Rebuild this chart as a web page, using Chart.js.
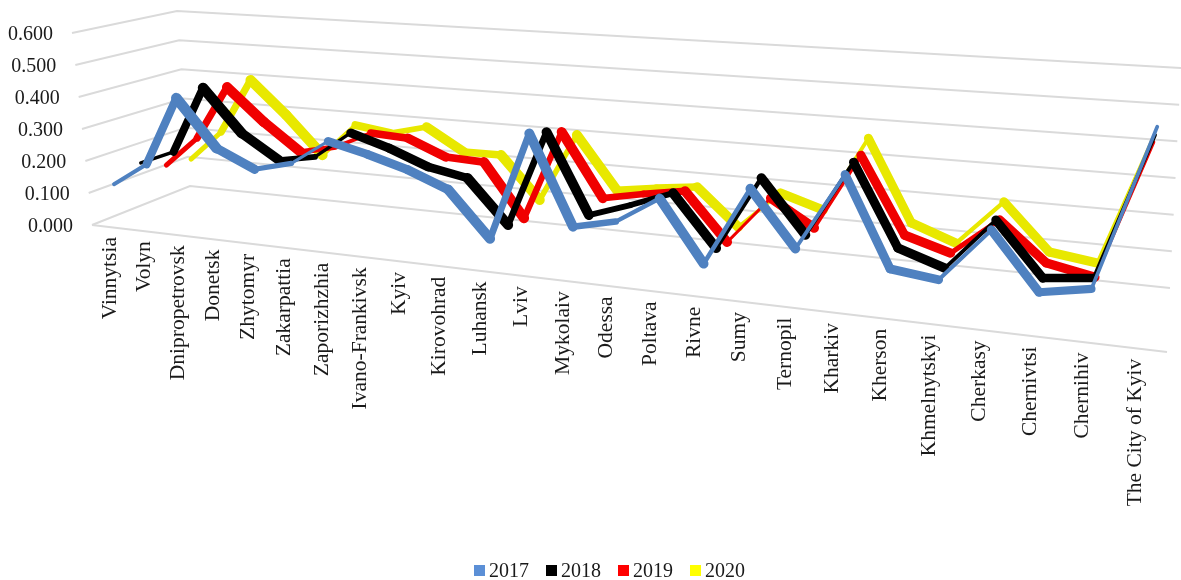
<!DOCTYPE html>
<html>
<head>
<meta charset="utf-8">
<style>
  html, body { margin: 0; padding: 0; background: #fff; }
  canvas { display: block; }
</style>
<script src="https://cdn.jsdelivr.net/npm/chart.js@4"></script>
</head>
<body>
<canvas id="chart" width="1181" height="580"></canvas>
<script>
var categories = ['Vinnytsia', 'Volyn', 'Dnipropetrovsk', 'Donetsk', 'Zhytomyr', 'Zakarpattia', 'Zaporizhzhia',
  'Ivano-Frankivsk', 'Kyiv', 'Kirovohrad', 'Luhansk', 'Lviv', 'Mykolaiv', 'Odessa', 'Poltava', 'Rivne', 'Sumy',
  'Ternopil', 'Kharkiv', 'Kherson', 'Khmelnytskyi', 'Cherkasy', 'Chernivtsi', 'Chernihiv', 'The City of Kyiv'];
var valueTicks = [0, 0.1, 0.2, 0.3, 0.4, 0.5, 0.6];

var years = ['2017', '2018', '2019', '2020'];
var colors = ['#4f81c0', '#000000', '#f00000', '#e8e800'];
var legendColors = ['#5b8fd6', '#000000', '#ff0000', '#ffff00'];

var v2017 = [0.123, 0.197, 0.412, 0.268, 0.215, 0.244, 0.321, 0.293, 0.259, 0.212, 0.082, 0.396, 0.142, 0.169, 0.246, 0.078, 0.297, 0.146, 0.358, 0.119, 0.104, 0.248, 0.100, 0.123, 0.548];
var v2018 = [0.159, 0.205, 0.418, 0.285, 0.211, 0.232, 0.316, 0.280, 0.234, 0.212, 0.084, 0.369, 0.138, 0.179, 0.225, 0.081, 0.291, 0.144, 0.357, 0.134, 0.093, 0.235, 0.094, 0.108, 0.493];
var v2019 = [0.123, 0.222, 0.397, 0.294, 0.208, 0.234, 0.288, 0.282, 0.234, 0.229, 0.070, 0.341, 0.154, 0.178, 0.198, 0.062, 0.201, 0.128, 0.345, 0.133, 0.096, 0.200, 0.096, 0.071, 0.443];
var v2020 = [0.113, 0.214, 0.396, 0.289, 0.168, 0.275, 0.259, 0.288, 0.219, 0.220, 0.091, 0.302, 0.144, 0.162, 0.176, 0.069, 0.181, 0.143, 0.361, 0.130, 0.085, 0.213, 0.086, 0.069, 0.420];
var allValues = [v2017, v2018, v2019, v2020];
var depths = [0.09, 0.375, 0.625, 0.875];

// the 3d box the excel chart sits in: floor corners and how far a value lifts them
function lerp(a, b, f) { return a + (b - a) * f; }
function perspective(s) { return 0.796 * s / (1 - 0.204 * s); }

function project(s, t, v) {
  var p = perspective(s);
  var lift = v / 0.6;
  var floorX = lerp(lerp(92, 1167, p), lerp(190, 1170, p), t);
  var floorY = lerp(lerp(225, 352, p), lerp(186, 288, p), t);
  var topX = lerp(lerp(72, 1187, p), lerp(177, 1181, p), t);
  var topY = lerp(lerp(33, 112, p), lerp(11, 68, p), t);
  return { x: lerp(floorX, topX, lift), y: lerp(floorY, topY, lift) };
}

function slot(i) { return (i + 0.5) / categories.length; }

var datasets = [];

allValues.forEach(function (values, j) {
  datasets.push({
    label: years[j],
    data: values.map(function (v, i) { return project(slot(i), depths[j], v); }),
    borderColor: colors[j],
    borderCapStyle: 'round',
    borderJoinStyle: 'round',
    borderWidth: 6,
    pointRadius: 0,
    segment: { borderWidth: ribbonWidth }
  });
});

// back wall and side wall lines, plus the front edge of the floor
valueTicks.forEach(function (v) {
  datasets.push({
    label: 'grid',
    data: [project(0, 0, v), project(0, 1, v), project(1, 1, v)],
    borderColor: '#dadada',
    borderWidth: 2,
    pointRadius: 0
  });
});
datasets.push({
  label: 'grid',
  data: [project(0, 0, 0), project(1, 0, 0)],
  borderColor: '#dadada',
  borderWidth: 2,
  pointRadius: 0
});

// a 3d line is a ribbon: it looks thin when it runs along the depth direction
function ribbonWidth(ctx) {
  var dx = ctx.p1.x - ctx.p0.x;
  var dy = ctx.p1.y - ctx.p0.y;
  var len = Math.sqrt(dx * dx + dy * dy) || 1;
  var f = ctx.p0.x / 1181;
  var ex = 8 - 5 * f;
  var ey = -3 - 3 * f;
  return 2.8 + Math.abs(dx * ey - dy * ex) / len;
}

var textPlugin = {
  id: 'textPlugin',
  afterDraw: function (chart) {
    var c = chart.ctx;
    var sx = chart.scales.x;
    var sy = chart.scales.y;
    c.save();
    c.fillStyle = '#1a1a1a';
    c.font = '20px "Liberation Serif"';
    c.textBaseline = 'middle';

    // value axis
    c.textAlign = 'right';
    valueTicks.forEach(function (v) {
      var p = project(0, 0, v);
      c.fillText(v.toFixed(3), sx.getPixelForValue(p.x) - 19, sy.getPixelForValue(p.y) + 2);
    });

    // category axis, reading upwards and hanging off the floor edge
    c.font = '21.5px "Liberation Serif"';
    categories.forEach(function (name, i) {
      var s = slot(i);
      var p = project(s, 0, 0);
      c.save();
      c.translate(sx.getPixelForValue(p.x) + Math.max(-5, 2 - 30 * s), sy.getPixelForValue(p.y) + 10);
      c.rotate(-Math.PI / 2);
      c.textAlign = 'right';
      c.fillText(name, 0, 0);
      c.restore();
    });

    // legend
    c.font = '20px "Liberation Serif"';
    c.textAlign = 'left';
    years.forEach(function (year, j) {
      var x = 474 + j * 72;
      c.fillStyle = legendColors[j];
      c.fillRect(x, 565, 11, 11);
      c.fillStyle = '#1a1a1a';
      c.fillText(year, x + 15, 572);
    });
    c.restore();
  }
};

var chart = new Chart(document.getElementById('chart').getContext('2d'), {
  type: 'scatter',
  data: { datasets: datasets },
  options: {
    responsive: false,
    animation: false,
    showLine: true,
    layout: { padding: 0 },
    plugins: { legend: { display: false }, tooltip: { enabled: false } },
    scales: {
      x: { type: 'linear', min: 0, max: 1181, display: false },
      y: { type: 'linear', min: 0, max: 580, reverse: true, display: false }
    }
  },
  plugins: [textPlugin]
});
</script>
</body>
</html>
